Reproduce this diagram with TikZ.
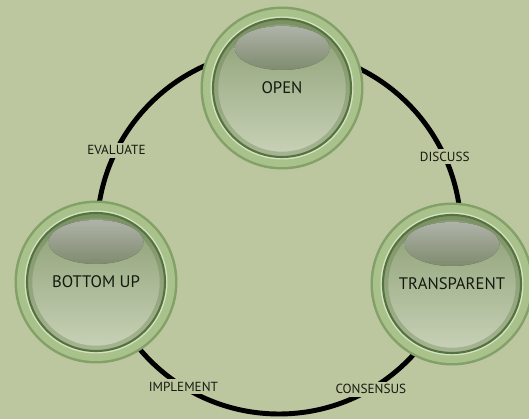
\documentclass[tikz,border=0pt]{standalone}
\usepackage{fontspec}
\setmainfont{PT Sans}
\definecolor{bg}{HTML}{BCC79F}
\definecolor{ringedge}{HTML}{83A068}
\definecolor{ringgreen}{HTML}{A9C28C}
\definecolor{ringband}{HTML}{D3E2C0}
\definecolor{discrim}{HTML}{56733F}
\definecolor{disctop}{HTML}{8A9E72}
\definecolor{discmid}{HTML}{A6B491}
\definecolor{discbot}{HTML}{C9D2B8}
\definecolor{btntext}{HTML}{141A10}
\begin{document}
\begin{tikzpicture}[
  button/.style={circle, minimum size=2.76cm, inner sep=0pt, text=btntext,
    font=\fontsize{9.5}{11}\selectfont,
    preaction={draw=ringedge, line width=0.50cm},
    preaction={draw=ringgreen, line width=0.40cm},
    preaction={draw=ringband, line width=0.10cm},
    top color=disctop, middle color=discmid, bottom color=discbot,
    draw=discrim, line width=1.2pt,
    path picture={
      \draw[discrim, line width=6pt, opacity=0.3] (path picture bounding box.center) circle (1.38cm);
      \fill[top color=white!80!disctop, bottom color=discmid!85!disctop, opacity=0.7]
        ([yshift=0.80cm]path picture bounding box.center) ellipse (0.95cm and 0.44cm);}},
  cycleline/.style={line width=2.8pt, black},
  cyclelabel/.style={fill=bg, inner sep=1.5pt, text=btntext, font=\fontsize{7.5}{8}\selectfont}
]
\fill[bg] (0,0) rectangle (10.58,-8.38);
\useasboundingbox (0,0) rectangle (10.58,-8.38);

% ring behind the buttons
\coordinate (hub) at (5.58,-4.64);
\draw[cycleline] (hub) circle (3.64cm);

\node[button] (open) at (5.64,-1.76) {OPEN};
\node[button] (bottomup) at (1.92,-5.64) {BOTTOM UP};
\node[button] (transparent) at (9.04,-5.68) {TRANSPARENT};

% steps on the ring
\node[cyclelabel] (evaluate) at ([shift={(153.3:3.64)}]hub) {EVALUATE};
\node[cyclelabel] (discuss) at ([shift={(24.4:3.64)}]hub) {DISCUSS};
\node[cyclelabel] (implement) at ([shift={(238.3:3.64)}]hub) {IMPLEMENT};
\node[cyclelabel] (consensus) at ([shift={(300.3:3.64)}]hub) {CONSENSUS};
\end{tikzpicture}
\end{document}
